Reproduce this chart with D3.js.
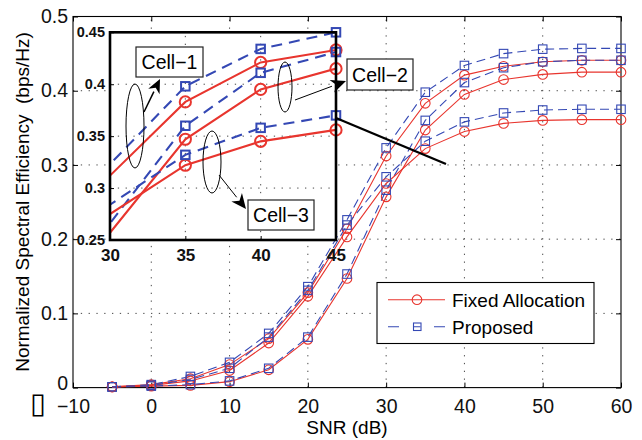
<!DOCTYPE html>
<html>
<head>
<meta charset="utf-8">
<script src="https://cdn.jsdelivr.net/npm/d3@7"></script>
<style>
  body { margin: 0; background: #fff; }
  text { font-family: "Liberation Sans", Arial, Helvetica, sans-serif; }
</style>
</head>
<body>
<div id="chart"></div>
<script>
// SNR points (dB)
const snr = [-5, 0, 5, 10, 15, 20, 25, 30, 35, 40, 45, 50, 55, 60];

// normalized spectral efficiency
const fixedCell1 = [0.001, 0.004, 0.012, 0.031, 0.066, 0.128, 0.214, 0.312, 0.383, 0.421, 0.433, 0.439, 0.441, 0.441];
const propCell1  = [0.001, 0.004, 0.015, 0.034, 0.073, 0.136, 0.226, 0.323, 0.398, 0.434, 0.450, 0.456, 0.457, 0.457];
const fixedCell2 = [0.001, 0.002, 0.003, 0.008, 0.024, 0.065, 0.147, 0.257, 0.347, 0.395, 0.415, 0.422, 0.425, 0.425];
const propCell2  = [0.001, 0.002, 0.004, 0.009, 0.026, 0.068, 0.153, 0.266, 0.360, 0.411, 0.431, 0.439, 0.441, 0.441];
const fixedCell3 = [0.001, 0.003, 0.009, 0.023, 0.060, 0.123, 0.203, 0.275, 0.322, 0.345, 0.356, 0.360, 0.361, 0.361];
const propCell3  = [0.001, 0.003, 0.011, 0.026, 0.068, 0.131, 0.219, 0.284, 0.332, 0.358, 0.370, 0.374, 0.375, 0.375];

const xTicks = [-10, 0, 10, 20, 30, 40, 50, 60];
const yTicks = [0, 0.1, 0.2, 0.3, 0.4, 0.5];
const insetXTicks = [30, 35, 40, 45];
const insetYTicks = [0.25, 0.3, 0.35, 0.4, 0.45];
const legendLabels = ["Fixed Allocation", "Proposed"];

const red = "#e8352e";
const blue = "#3448b4";

const series = [
    {vals: fixedCell1, kind: "fixed"}, {vals: propCell1, kind: "prop"},
    {vals: fixedCell2, kind: "fixed"}, {vals: propCell2, kind: "prop"},
    {vals: fixedCell3, kind: "fixed"}, {vals: propCell3, kind: "prop"}
].map(s => ({kind: s.kind, pts: snr.map((v, i) => [v, s.vals[i]])}));

const svg = d3.select("#chart").append("svg")
    .attr("width", 642)
    .attr("height", 440);

const x = d3.scaleLinear().domain([-10, 60]).range([73, 621]);
const y = d3.scaleLinear().domain([0, 0.5]).range([387.6, 16.5]);

// grid
const grid = svg.append("g").attr("stroke", "#333").attr("stroke-width", 0.9).attr("stroke-dasharray", "1.3,6.5");
xTicks.slice(1, -1).forEach(t => grid.append("line")
    .attr("x1", x(t)).attr("x2", x(t)).attr("y1", y(0)).attr("y2", y(0.5)));
yTicks.slice(1, -1).forEach(t => grid.append("line")
    .attr("x1", x(-10)).attr("x2", x(60)).attr("y1", y(t)).attr("y2", y(t)));

// axes (ticks inside like matlab)
const xAxis = svg.append("g").attr("transform", `translate(0,${y(0)})`)
    .call(d3.axisBottom(x).tickValues(xTicks).tickSizeInner(-5).tickSizeOuter(0).tickPadding(12)
        .tickFormat(d3.format("~g")));
const xAxisTop = svg.append("g").attr("transform", `translate(0,${y(0.5)})`)
    .call(d3.axisTop(x).tickValues(xTicks).tickSizeInner(-5).tickSizeOuter(0).tickFormat(""));
const yAxis = svg.append("g").attr("transform", `translate(${x(-10)},0)`)
    .call(d3.axisLeft(y).tickValues(yTicks).tickSizeInner(-5).tickSizeOuter(0).tickPadding(5)
        .tickFormat(d3.format("~g")));
const yAxisRight = svg.append("g").attr("transform", `translate(${x(60)},0)`)
    .call(d3.axisRight(y).tickValues(yTicks).tickSizeInner(-5).tickSizeOuter(0).tickFormat(""));
[xAxis, xAxisTop, yAxis, yAxisRight].forEach(a => {
    a.select(".domain").remove();
    a.selectAll("text").attr("font-size", 19.5).attr("fill", "#111")
        .attr("font-family", "'Liberation Sans', Arial, sans-serif");
});
// keep the "0" clear of the "-10" below it
yAxis.selectAll("text").filter(d => d === 0).attr("dy", "0.1em");

// the odd missing-glyph box before -10
svg.append("text")
    .attr("x", 38).attr("y", 413)
    .attr("text-anchor", "middle")
    .attr("font-size", 29)
    .attr("font-family", "DejaVu Sans")
    .text("\u25AF");

svg.append("rect")
    .attr("x", x(-10)).attr("y", y(0.5))
    .attr("width", x(60) - x(-10)).attr("height", y(0) - y(0.5))
    .attr("fill", "none").attr("stroke", "#000").attr("stroke-width", 1.1);

// labels
svg.append("text")
    .attr("x", 347).attr("y", 434)
    .attr("text-anchor", "middle").attr("font-size", 19)
    .text("SNR (dB)");
svg.append("text")
    .attr("transform", "translate(29,202) rotate(-90)")
    .attr("text-anchor", "middle").attr("font-size", 19)
    .attr("xml:space", "preserve")
    .text("Normalized Spectral Efficiency  (bps/Hz)");

// main curves
function drawSeries(g, xs, ys, opts) {
    const line = d3.line().x(d => xs(d[0])).y(d => ys(d[1]));
    const lines = opts.clip ? g.append("g").attr("clip-path", opts.clip) : g;
    series.forEach(s => {
        lines.append("path")
            .attr("d", line(s.pts))
            .attr("fill", "none")
            .attr("stroke", s.kind === "fixed" ? red : blue)
            .attr("stroke-width", opts.lw)
            .attr("stroke-dasharray", s.kind === "fixed" ? null : opts.dash);
    });
    series.forEach(s => {
        const pts = s.pts.filter(opts.keep);
        if (s.kind === "fixed") {
            g.selectAll(null).data(pts).enter().append("circle")
                .attr("cx", d => xs(d[0])).attr("cy", d => ys(d[1]))
                .attr("r", opts.r)
                .attr("fill", "none").attr("stroke", red).attr("stroke-width", opts.mw);
        } else {
            g.selectAll(null).data(pts).enter().append("rect")
                .attr("x", d => xs(d[0]) - opts.sq / 2).attr("y", d => ys(d[1]) - opts.sq / 2)
                .attr("width", opts.sq).attr("height", opts.sq)
                .attr("fill", "none").attr("stroke", blue).attr("stroke-width", opts.mw);
        }
    });
}

drawSeries(svg.append("g"), x, y, {lw: 1.1, mw: 1.1, dash: "9,5", r: 4.8, sq: 8.5, keep: () => true});

// ---------- inset ----------
const ix = d3.scaleLinear().domain([30, 45]).range([110, 336]);
const iy = d3.scaleLinear().domain([0.25, 0.45]).range([240, 32.3]);

svg.append("defs").append("clipPath").attr("id", "insetClip")
    .append("rect")
    .attr("x", ix(30)).attr("y", iy(0.45))
    .attr("width", ix(45) - ix(30)).attr("height", iy(0.25) - iy(0.45));

const inset = svg.append("g");
inset.append("rect")
    .attr("x", ix(30)).attr("y", iy(0.45))
    .attr("width", ix(45) - ix(30)).attr("height", iy(0.25) - iy(0.45))
    .attr("fill", "#fff");

const igrid = inset.append("g").attr("stroke", "#333").attr("stroke-width", 0.9).attr("stroke-dasharray", "1.3,6.5");
[35, 40].forEach(t => igrid.append("line")
    .attr("x1", ix(t)).attr("x2", ix(t)).attr("y1", iy(0.25)).attr("y2", iy(0.45)));
[0.3, 0.35, 0.4].forEach(t => igrid.append("line")
    .attr("x1", ix(30)).attr("x2", ix(45)).attr("y1", iy(t)).attr("y2", iy(t)));

const ixAxis = inset.append("g").attr("transform", `translate(0,${iy(0.25)})`)
    .call(d3.axisBottom(ix).tickValues(insetXTicks).tickSizeInner(-4).tickSizeOuter(0).tickPadding(9));
const iyAxis = inset.append("g").attr("transform", `translate(${ix(30)},0)`)
    .call(d3.axisLeft(iy).tickValues(insetYTicks).tickSizeInner(-4).tickSizeOuter(0).tickPadding(5)
        .tickFormat(d3.format("~g")));
[ixAxis, iyAxis].forEach(a => {
    a.select(".domain").remove();
    a.selectAll("text").attr("fill", "#111").attr("font-weight", "bold")
        .attr("font-family", "'Liberation Sans', Arial, sans-serif");
});
ixAxis.selectAll("text").attr("font-size", 17);
iyAxis.selectAll("text").attr("font-size", 14.5);

drawSeries(inset.append("g"), ix, iy, {
    lw: 2.1, mw: 2, dash: "11,7", r: 5.6, sq: 8.5, clip: "url(#insetClip)",
    keep: d => d[0] >= 35 && d[0] <= 45
});

inset.append("rect")
    .attr("x", ix(30)).attr("y", iy(0.45))
    .attr("width", ix(45) - ix(30)).attr("height", iy(0.25) - iy(0.45))
    .attr("fill", "none").attr("stroke", "#000").attr("stroke-width", 2.6);

// connector from inset to the main curves
svg.append("line")
    .attr("x1", 336).attr("y1", 118).attr("x2", 446).attr("y2", 164)
    .attr("stroke", "#000").attr("stroke-width", 2.4);

// ---------- cell annotations ----------
function arrow(x1, y1, x2, y2, w, head) {
    const a = Math.atan2(y2 - y1, x2 - x1);
    const bx = x2 - head * Math.cos(a), by = y2 - head * Math.sin(a);
    svg.append("line")
        .attr("x1", x1).attr("y1", y1).attr("x2", bx).attr("y2", by)
        .attr("stroke", "#000").attr("stroke-width", w);
    const hw = head * 0.45;
    const pts = [
        [x2, y2],
        [bx + hw * Math.sin(a), by - hw * Math.cos(a)],
        [x2 - head * 0.7 * Math.cos(a), y2 - head * 0.7 * Math.sin(a)],
        [bx - hw * Math.sin(a), by + hw * Math.cos(a)]
    ];
    svg.append("polygon").attr("points", pts.map(p => p.join(",")).join(" ")).attr("fill", "#000");
}

function box(x0, y0, w, h, label) {
    svg.append("rect").attr("x", x0).attr("y", y0).attr("width", w).attr("height", h)
        .attr("fill", "#fff").attr("stroke", "#222").attr("stroke-width", 1.2);
    svg.append("text").attr("x", x0 + w / 2).attr("y", y0 + h / 2 + 7)
        .attr("text-anchor", "middle").attr("font-size", 19.5).text(label);
}

function ellipse(cx, cy, rx, ry) {
    svg.append("ellipse").attr("cx", cx).attr("cy", cy).attr("rx", rx).attr("ry", ry)
        .attr("fill", "none").attr("stroke", "#000").attr("stroke-width", 1);
}

ellipse(135, 126, 9, 42);
arrow(144, 112, 160, 79, 1.5, 14);
box(136, 47, 67, 30, "Cell\u22121");

ellipse(285, 87, 7, 25);
arrow(295, 100, 346, 81, 1, 15);
box(347, 59, 66, 31, "Cell\u22122");

ellipse(212, 162, 9, 31);
arrow(219, 175, 246, 209, 1, 15);
box(248, 200, 66, 30, "Cell\u22123");

// ---------- legend ----------
const legend = svg.append("g");
legend.append("rect")
    .attr("x", 377).attr("y", 282.5).attr("width", 217).attr("height", 61)
    .attr("fill", "#fff").attr("stroke", "#000").attr("stroke-width", 1.1);
legend.append("line").attr("x1", 388).attr("x2", 445).attr("y1", 299.7).attr("y2", 299.7)
    .attr("stroke", red).attr("stroke-width", 1.1);
legend.append("circle").attr("cx", 417).attr("cy", 299.7).attr("r", 4.8)
    .attr("fill", "none").attr("stroke", red).attr("stroke-width", 1.1);
legend.append("line").attr("x1", 388).attr("x2", 445).attr("y1", 326.7).attr("y2", 326.7)
    .attr("stroke", blue).attr("stroke-width", 1.1).attr("stroke-dasharray", "11,14.5,7,13.5,11");
legend.append("rect").attr("x", 413.5).attr("y", 323).attr("width", 7.5).attr("height", 7.5)
    .attr("fill", "none").attr("stroke", blue).attr("stroke-width", 1.1);
legendLabels.forEach((t, i) => legend.append("text")
    .attr("x", 452).attr("y", 306.5 + i * 27)
    .attr("font-size", 19).text(t));
</script>
</body>
</html>
